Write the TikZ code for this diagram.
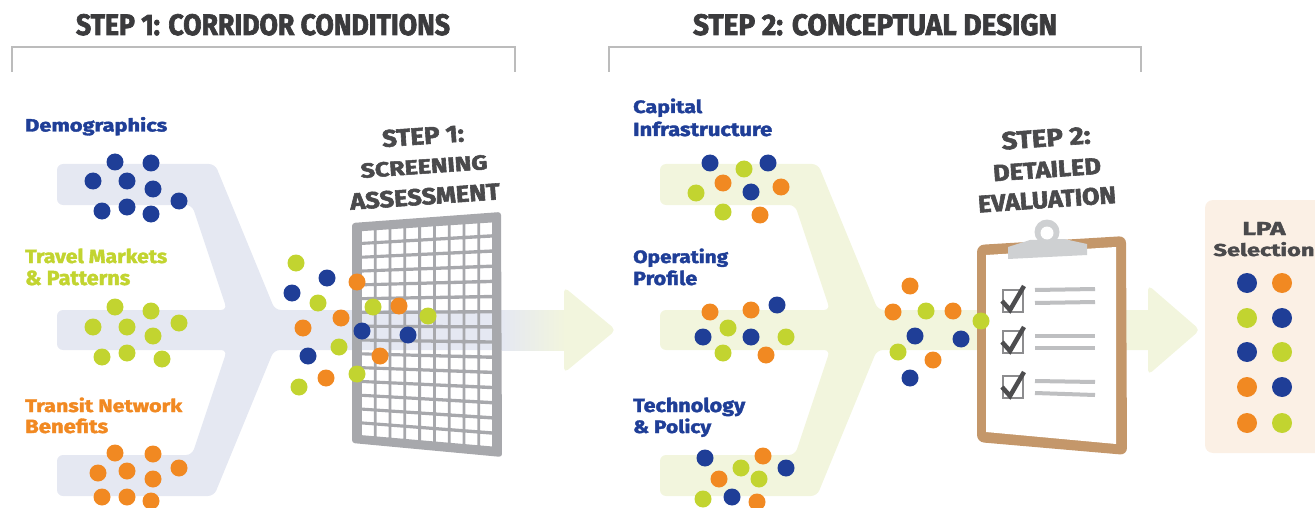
\documentclass[tikz,border=0pt]{standalone}
\usepackage{fontspec}
\usepackage{graphicx}
\setmainfont{Fira Sans}
\newfontfamily\headfont{Fira Sans}[BoldFeatures={FakeBold=2.4}]
\newfontfamily\labelfont{Fira Sans}[BoldFeatures={FakeBold=1.8}]

\definecolor{cblue}{RGB}{31,62,151}
\definecolor{clime}{RGB}{194,212,48}
\definecolor{corange}{RGB}{241,137,34}
\definecolor{bandblue}{RGB}{229,232,242}
\definecolor{bandgreen}{RGB}{242,245,221}
\definecolor{lpafill}{RGB}{251,240,229}
\definecolor{gridgray}{RGB}{167,168,172}
\definecolor{boardbrown}{RGB}{196,151,106}
\definecolor{clipgray}{RGB}{206,208,210}
\definecolor{rulegray}{RGB}{190,191,193}
\definecolor{checkdark}{RGB}{77,77,79}
\definecolor{boxgray}{RGB}{140,140,142}
\definecolor{headgray}{RGB}{59,59,61}
\definecolor{stepgray}{RGB}{74,74,76}
\definecolor{bracketgray}{RGB}{188,188,188}

% text squeezed to a given width and cap height
\newcommand\fitbox[3]{\resizebox{#1pt}{#2pt}{#3}}

% grid frame in perspective: u across, v down
\pgfmathdeclarefunction{gx}{1}{\pgfmathparse{352+150*#1}}
\pgfmathdeclarefunction{gy}{2}{\pgfmathparse{223-11*#1+#2*(220+25*#1)}}

% merging band: three arms joining into one, running right to x=#2
\newcommand\funnel[2]{%
  \fill[#1, rounded corners=6pt]
    (57,164) -- (215,164) -- (275,310) -- (#2,310) -- (#2,350) -- (274,350)
    -- (214,496) -- (57,496) -- (57,455) -- (192,455) -- (227,350) -- (57,350)
    -- (57,310) -- (227,310) -- (192,205) -- (57,205) -- cycle;}

\tikzset{
  header/.style={inner sep=0pt, text=headgray, anchor=base},
  steplabel/.style={inner sep=0pt, text=stepgray, rotate=4, anchor=center},
  catlabel/.style={inner sep=0pt, anchor=base west},
  bracket/.style={draw=bracketgray, line width=1.3pt},
  tickline/.style={draw=rulegray, line width=4pt},
  tickbox/.style={draw=boxgray, line width=1.3pt},
  tickmark/.style={draw=checkdark, line width=4.5pt, line join=miter},
}

\begin{document}
\begin{tikzpicture}[x=1pt, y=-1pt]
\useasboundingbox (0,0) rectangle (1315,508);
\clip (0,0) rectangle (1315,508);

% ---- bands and arrows ----
\funnel{bandblue}{512}
\shade[left color=bandblue, right color=bandgreen] (502,310) rectangle (566,350);
\fill[bandgreen, rounded corners=5pt] (564,287) -- (616,330) -- (564,373) -- cycle;

\begin{scope}[xshift=603pt]
  \funnel{bandgreen}{552}
\end{scope}
\fill[bandgreen, rounded corners=5pt] (1148,285) -- (1200,330) -- (1148,375) -- cycle;

% ---- selection panel ----
\fill[lpafill, rounded corners=8pt] (1205,200) rectangle (1335,453);

% ---- screening grid ----
\fill[gridgray, even odd rule]
  [rounded corners=3pt] (352,223) -- (501,212) -- (502,457) -- (352,443) -- cycle
  [sharp corners]
  foreach \i in {0,...,8} { foreach \j in {0,...,14} {
    ({gx(0.066+\i*0.0985)},{gy(0.066+\i*0.0985,0.04+\j*0.0623)})
    -- ({gx(0.146+\i*0.0985)},{gy(0.146+\i*0.0985,0.04+\j*0.0623)})
    -- ({gx(0.146+\i*0.0985)},{gy(0.146+\i*0.0985,0.0883+\j*0.0623)})
    -- ({gx(0.066+\i*0.0985)},{gy(0.066+\i*0.0985,0.0883+\j*0.0623)})
    -- cycle } };

% ---- clipboard ----
\fill[boardbrown, rounded corners=7pt] (977,245) -- (1126,236) -- (1127,455) -- (977,442) -- cycle;
\fill[white] (986,255) -- (1116,247) -- (1116,444) -- (986,432) -- cycle;
\fill[clipgray] (1047,232) circle (12.5pt);
\fill[clipgray] (1008,259) -- (1008,247) -- (1030,240) -- (1064,239) -- (1087,244) -- (1087,255) -- cycle;
\fill[white] (1047,233) circle (6.5pt);

\draw[tickbox] (1003,290) rectangle (1023,312);
\draw[tickbox] (1003,331) rectangle (1023,353);
\draw[tickbox] (1003,376) rectangle (1023,398);
\draw[tickmark] (1002,301) -- (1010,310) -- (1024,286);
\draw[tickmark] (1002,342) -- (1010,351) -- (1024,327);
\draw[tickmark] (1002,387) -- (1010,396) -- (1024,372);
\draw[tickline] (1035,290) -- (1095,289);
\draw[tickline] (1035,303) -- (1095,302);
\draw[tickline] (1035,336) -- (1095,336);
\draw[tickline] (1035,348) -- (1095,348);
\draw[tickline] (1035,381) -- (1095,382);
\draw[tickline] (1035,393) -- (1095,395);

% ---- dots: corridor conditions ----
\foreach \p in {(115,162),(151,163),(93,181),(127,181),(153,189),(179,201),(102,211),(127,207),(151,214)}
  \fill[cblue] \p circle (8.5pt);
\foreach \p in {(115,307),(151,311),(93,327),(127,327),(153,336),(179,323),(102,357),(127,353),(162,359)}
  \fill[clime] \p circle (8.5pt);
\foreach \p in {(115,453),(153,454),(98,473),(127,471),(153,479),(179,468),(102,497),(127,497),(151,501)}
  \fill[corange] \p circle (8.5pt);

% dots passing the screen
\foreach \p in {(327,278),(292,293),(362,331),(408,335),(308,356)}
  \fill[cblue] \p circle (8.5pt);
\foreach \p in {(296,263),(318,303),(373,307),(428,316),(339,347),(357,374),(299,387)}
  \fill[clime] \p circle (8.5pt);
\foreach \p in {(357,282),(399,306),(341,318),(303,328),(380,356),(326,378)}
  \fill[corange] \p circle (8.5pt);

% ---- dots: conceptual design ----
\foreach \p in {(710,163),(768,163),(751,192),(777,305),(703,337),(751,337),(705,458),(786,468),(732,497)}
  \fill[cblue] \p circle (8.5pt);
\foreach \p in {(744,169),(696,193),(723,212),(728,328),(786,337),(723,353),(741,468),(759,479),(703,499)}
  \fill[clime] \p circle (8.5pt);
\foreach \p in {(723,183),(781,187),(760,215),(710,312),(751,310),(766,355),(763,456),(719,479),(757,502)}
  \fill[corange] \p circle (8.5pt);

% dots entering the evaluation
\foreach \p in {(915,336),(961,339),(910,378)}
  \fill[cblue] \p circle (8.5pt);
\foreach \p in {(926,311),(981,321),(898,352)}
  \fill[clime] \p circle (8.5pt);
\foreach \p in {(910,286),(893,312),(953,311),(933,360)}
  \fill[corange] \p circle (8.5pt);

% selected alternatives
\foreach \p in {(1247,283),(1282,318),(1247,352),(1282,387)}
  \fill[cblue] \p circle (10pt);
\foreach \p in {(1247,318),(1282,352),(1282,423)}
  \fill[clime] \p circle (10pt);
\foreach \p in {(1282,283),(1247,387),(1247,423)}
  \fill[corange] \p circle (10pt);

% ---- headers ----
\draw[bracket] (12,72) -- (12,47) -- (515,47) -- (515,72);
\draw[bracket] (609,72) -- (609,47) -- (1141,47) -- (1141,72);
\node[header] (h1) at (263,35) {\fitbox{374}{21}{\headfont\bfseries STEP 1: CORRIDOR CONDITIONS}};
\node[header] (h2) at (875,35) {\fitbox{364}{21}{\headfont\bfseries STEP 2: CONCEPTUAL DESIGN}};

% ---- step titles ----
\node[steplabel] (s1a) at (423,136) {\fitbox{82}{17}{\headfont\bfseries STEP 1:}};
\node[steplabel] (s1b) at (424,166.5) {\fitbox{127}{14.5}{\headfont\bfseries SCREENING}};
\node[steplabel] (s1c) at (425,196.5) {\fitbox{150}{16.5}{\headfont\bfseries ASSESSMENT}};
\node[steplabel] (s2a) at (1046,138) {\fitbox{89}{17.5}{\headfont\bfseries STEP 2:}};
\node[steplabel] (s2b) at (1047,169.5) {\fitbox{108}{16}{\headfont\bfseries DETAILED}};
\node[steplabel] (s2c) at (1047,199.5) {\fitbox{138}{17}{\headfont\bfseries EVALUATION}};

% ---- category labels ----
\node[catlabel, text=cblue] (demo) at (25,131.5) {\fitbox{142}{14.5}{\labelfont\bfseries Demographics}};
\node[catlabel, text=clime] (trav1) at (25,263) {\fitbox{142}{14.5}{\labelfont\bfseries Travel Markets}};
\node[catlabel, text=clime] (trav2) at (25,285) {\fitbox{105}{14.5}{\labelfont\bfseries \& Patterns}};
\node[catlabel, text=corange] (tran1) at (25,412) {\fitbox{157}{14.5}{\labelfont\bfseries Transit Network}};
\node[catlabel, text=corange] (tran2) at (25,433) {\fitbox{83}{14.5}{\labelfont\bfseries Benefits}};

\node[catlabel, text=cblue] (cap1) at (633,113) {\fitbox{69}{14.5}{\labelfont\bfseries Capital}};
\node[catlabel, text=cblue] (cap2) at (633,136) {\fitbox{139}{14.5}{\labelfont\bfseries Infrastructure}};
\node[catlabel, text=cblue] (op1) at (633,263) {\fitbox{95}{14.5}{\labelfont\bfseries Operating}};
\node[catlabel, text=cblue] (op2) at (633,285) {\fitbox{64}{14.5}{\labelfont\bfseries Profile}};
\node[catlabel, text=cblue] (tec1) at (633,412) {\fitbox{112}{14.5}{\labelfont\bfseries Technology}};
\node[catlabel, text=cblue] (tec2) at (633,433) {\fitbox{78}{14.5}{\labelfont\bfseries \& Policy}};

\node[header, text=stepgray] (lpa1) at (1264,235) {\fitbox{43}{13}{\labelfont\bfseries LPA}};
\node[header, text=stepgray] (lpa2) at (1264,256) {\fitbox{101}{14}{\labelfont\bfseries Selection}};
\end{tikzpicture}
\end{document}
